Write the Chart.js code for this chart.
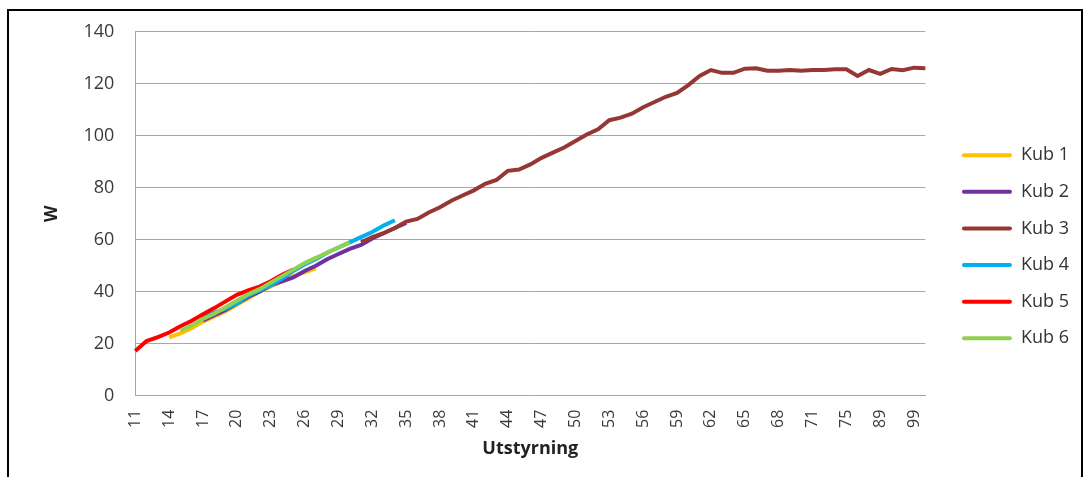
<!DOCTYPE html>
<html>
<head>
<meta charset="utf-8">
<script src="https://cdn.jsdelivr.net/npm/chart.js@4/dist/chart.umd.min.js"></script>
<style>
  body { margin: 0; background: #fff; }
  #wrap { position: relative; width: 1086px; height: 477px; overflow: hidden; }
  #frame { position: absolute; left: 7px; top: 9px; width: 1072px; height: 500px; border: 2px solid #000; pointer-events: none; }
</style>
</head>
<body>
<div id="wrap">
  <canvas id="chart"></canvas>
  <div id="frame"></div>
</div>
<script>
// x categories (Utstyrning)
const categories = [11, 12, 13, 14, 15, 16, 17, 18, 19, 20, 21, 22, 23, 24, 25, 26, 27, 28, 29, 30,
  31, 32, 33, 34, 35, 36, 37, 38, 39, 40, 41, 42, 43, 44, 45, 46, 47, 48, 49, 50,
  51, 52, 53, 54, 55, 56, 57, 58, 59, 60, 61, 62, 63, 64, 65, 66, 67, 68, 69, 70,
  71, 72, 73, 75, 77, 80, 89, 92, 95, 99, 100];

// W per cube, each list starts at the given category index
const kub1Start = 3;
const kub1 = [22.4, 24, 26, 28.5, 30.5, 32.5, 35, 37.5, 40, 42, 44, 46, 47.5, 49];
const kub2Start = 6;
const kub2 = [29, 31, 33, 35.5, 38, 40, 42.5, 44, 45.5, 48, 50, 52.5, 54.5, 56.5, 58, 60.5, 62.5, 64.5, 66.5];
const kub3Start = 20;
const kub3 = [59, 61, 62.5, 64.5, 67, 68, 70.5, 72.5, 75, 77, 79, 81.5, 83, 86.5, 87, 89, 91.5, 93.5, 95.5, 98,
  100.5, 102.5, 106, 107, 108.5, 111, 113, 115, 116.5, 119.5, 123, 125.3, 124.2, 124.2, 125.8, 126, 125, 125, 125.3, 125,
  125.3, 125.3, 125.6, 125.6, 123, 125.3, 123.8, 125.7, 125.2, 126.2, 126];
const kub4Start = 6;
const kub4 = [30, 32, 33.5, 35.5, 38.5, 40.5, 42.5, 45, 48, 50.5, 52.5, 55, 57, 59, 61, 63, 65.5, 67.5];
const kub5Start = 0;
const kub5 = [17.2, 21, 22.5, 24.3, 26.7, 28.8, 31.3, 33.7, 36.3, 38.8, 40.5, 42, 44, 46.5, 48.5];
const kub6Start = 4;
const kub6 = [25, 27, 29.5, 31.5, 34, 36.5, 39, 41, 43.5, 46, 48.5, 51, 53, 55, 57, 59];

const yTicks = [0, 20, 40, 60, 80, 100, 120, 140];

function pad(start, values) {
  return new Array(start).fill(null).concat(values);
}

const series = [
  { label: 'Kub 1', data: pad(kub1Start, kub1), color: '#FFC000' },
  { label: 'Kub 2', data: pad(kub2Start, kub2), color: '#7030A0' },
  { label: 'Kub 3', data: pad(kub3Start, kub3), color: '#953735' },
  { label: 'Kub 4', data: pad(kub4Start, kub4), color: '#00B0F0' },
  { label: 'Kub 5', data: pad(kub5Start, kub5), color: '#FF0000' },
  { label: 'Kub 6', data: pad(kub6Start, kub6), color: '#92D050' }
];

Chart.defaults.font.family = "'Open Sans', sans-serif";
Chart.defaults.color = '#3a3a3a';

// push legend a bit further right of the plot area
const legendShift = {
  id: 'legendShift',
  afterLayout(chart) {
    chart.legend.left += 18;
    chart.legend.right += 18;
  }
};

const ctx = document.getElementById('chart').getContext('2d');
new Chart(ctx, {
  type: 'line',
  data: {
    labels: categories,
    datasets: series.map((s, i) => ({
      label: s.label,
      data: s.data,
      borderColor: s.color,
      backgroundColor: s.color,
      borderWidth: 4,
      pointRadius: 0,
      tension: 0,
      fill: false,
      order: series.length - i // later series drawn on top, like Excel
    }))
  },
  options: {
    responsive: true,
    maintainAspectRatio: false,
    animation: false,
    layout: { padding: { left: 38, top: 31.5, right: 25, bottom: 15 } },
    plugins: {
      tooltip: { enabled: false },
      legend: {
        position: 'right',
        labels: {
          boxWidth: 50,
          boxHeight: 4,
          padding: 18.6,
          useBorderRadius: true,
          borderRadius: 2,
          font: { size: 18 },
          color: '#333',
          sort: (a, b) => a.datasetIndex - b.datasetIndex,
          generateLabels: (chart) =>
            Chart.defaults.plugins.legend.labels.generateLabels(chart).map(l => ({ ...l, lineWidth: 0 }))
        }
      }
    },
    scales: {
      x: {
        grid: { display: false, drawTicks: false },
        border: { display: true, color: '#a6a6a6', width: 1 },
        ticks: {
          autoSkip: false,
          minRotation: 90,
          maxRotation: 90,
          padding: 14,
          font: { size: 16 },
          callback: (v, i) => (i % 3 === 0 ? categories[i] : '')
        },
        title: {
          display: true,
          text: 'Utstyrning',
          font: { size: 18, weight: 'bold', lineHeight: 1 },
          color: '#222',
          padding: { top: -2, bottom: 4 }
        }
      },
      y: {
        min: 0,
        max: 140,
        afterBuildTicks: (scale) => { scale.ticks = yTicks.map(v => ({ value: v })); },
        grid: { color: '#a6a6a6', lineWidth: 1, drawTicks: false },
        border: { display: true, color: '#a6a6a6', width: 1 },
        ticks: { padding: 21, font: { size: 18 } },
        title: {
          display: true,
          text: 'W',
          font: { size: 17, weight: 'bold' },
          color: '#222',
          padding: { top: 4, bottom: 0 }
        }
      }
    }
  },
  plugins: [legendShift]
});
</script>
</body>
</html>
